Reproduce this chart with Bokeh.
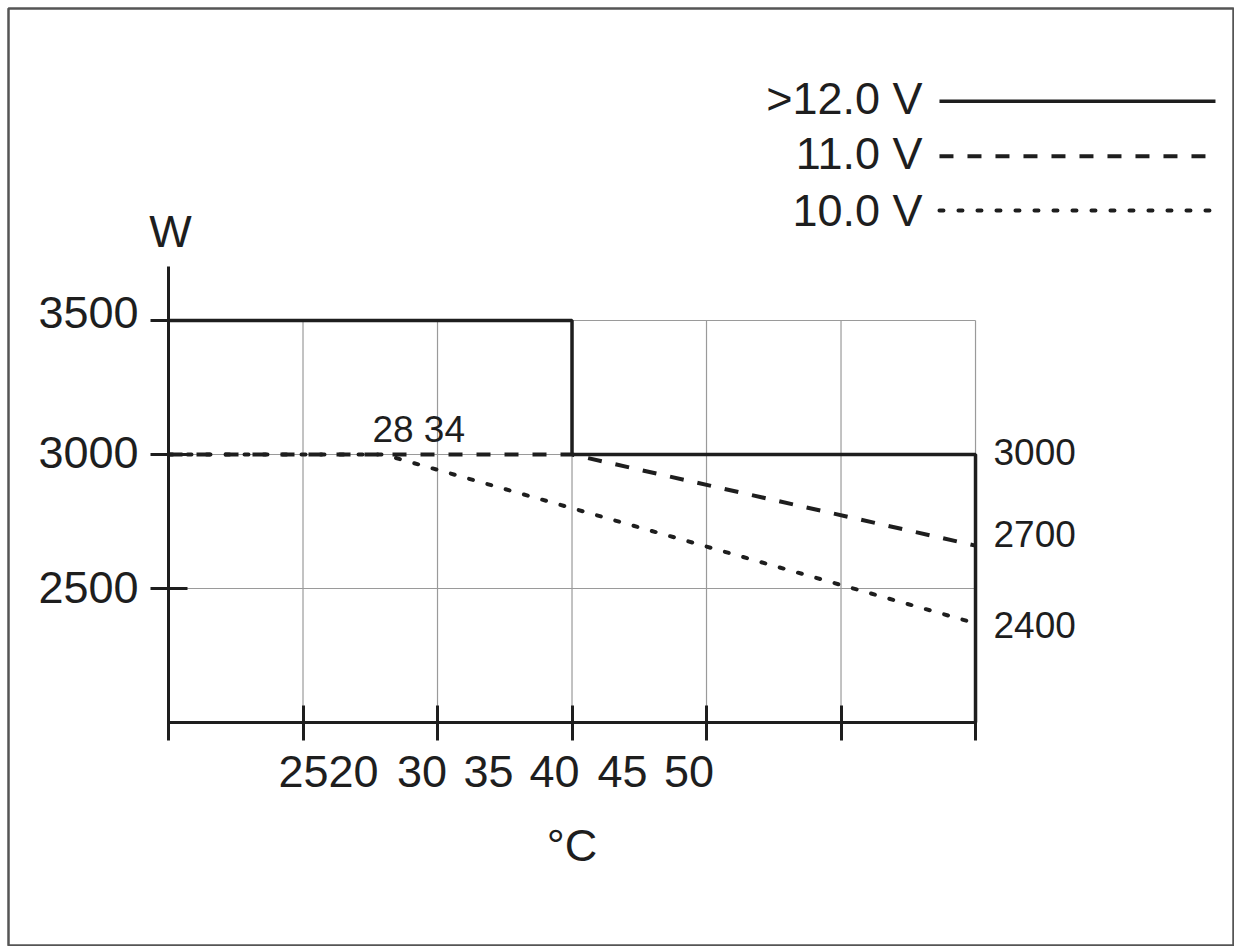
from bokeh.plotting import figure
from bokeh.models import Range1d, LinearAxis, FixedTicker, Label
from bokeh.embed import file_html
from bokeh.resources import INLINE

FONT = "Liberation Sans"
INK = "#1e1e1e"
GRID = "#9a9a9a"

# power (W) against temperature (°C), one line per supply voltage
x_12v = [10, 40, 40, 70, 70]
y_12v = [3500, 3500, 3000, 3000, 2000]
x_11v = [10, 40, 70]
y_11v = [3000, 3000, 2660]
x_10v = [10, 26, 70]
y_10v = [3000, 3000, 2370]

series_names = [">12.0 V", "11.0 V", "10.0 V"]

x_ticks = [10, 20, 30, 40, 50, 60, 70]
y_ticks = [2500, 3000, 3500]
# tick labels as printed in the original (they do not sit on the ticks)
x_label_pos = [21.9, 28.85, 33.8, 38.7, 43.75, 48.7]
x_label_text = ["2520", "30", "35", "40", "45", "50"]
y_label_pos = [2504, 3009, 3530]
y_label_text = ["2500", "3000", "3500"]

# values written at the right-hand end
end_values = ["3000", "2700", "2400"]
end_values_y = [3011, 2705, 2365]
break_note = "28 34"

# the frame covers the whole picture, its outline is the outer border
p = figure(width=1234, height=946, output_backend="svg", toolbar_location=None,
           x_range=Range1d(-1.896, 89.18), y_range=Range1d(1168, 4664),
           x_axis_type=None, y_axis_type=None,
           min_border_left=8, min_border_right=1,
           min_border_top=8, min_border_bottom=1)
p.outline_line_color = "#555555"
p.outline_line_width = 2.5
p.background_fill_color = "white"
p.border_fill_color = "white"

# grid only up to 3500
p.segment(x0=x_ticks[1:], y0=[2000] * 6, x1=x_ticks[1:], y1=[3500] * 6,
          line_color=GRID, line_width=1.2)
p.segment(x0=[10] * 3, y0=y_ticks, x1=[70] * 3, y1=y_ticks,
          line_color=GRID, line_width=1.2)

p.line(x_10v, y_10v, line_color=INK, line_width=4, line_dash="4 15", line_cap="round")
p.line(x_11v, y_11v, line_color=INK, line_width=4, line_dash="14 14")
p.line(x_12v, y_12v, line_color=INK, line_width=3.5)


def style_ticks_only(axis):
    axis.major_label_overrides = {t: "" for t in axis.ticker.ticks}
    axis.major_label_text_font_size = "1px"
    axis.axis_line_width = 3
    axis.axis_line_color = INK
    axis.major_tick_line_width = 3
    axis.major_tick_line_color = INK
    axis.minor_tick_line_color = None


def style_labels_only(axis, labels):
    axis.major_label_overrides = labels
    axis.axis_line_color = None
    axis.major_tick_line_color = None
    axis.minor_tick_line_color = None
    axis.major_tick_in = 0
    axis.major_tick_out = 0
    axis.major_label_text_font = FONT
    axis.major_label_text_font_size = "45px"
    axis.major_label_text_color = INK


# axes, pinned inside the frame
ax = LinearAxis(ticker=FixedTicker(ticks=x_ticks), fixed_location=2000, bounds=(10, 70))
style_ticks_only(ax)
ax.major_tick_in = 17
ax.major_tick_out = 18
p.add_layout(ax, "below")

ax2 = LinearAxis(ticker=FixedTicker(ticks=x_label_pos), fixed_location=2000, bounds=(10, 70))
style_labels_only(ax2, dict(zip(x_label_pos, x_label_text)))
ax2.major_label_standoff = 33
ax2.axis_label = "°C"
ax2.axis_label_text_font = FONT
ax2.axis_label_text_font_size = "45px"
ax2.axis_label_text_font_style = "normal"
ax2.axis_label_text_color = INK
ax2.axis_label_standoff = 30
p.add_layout(ax2, "below")

ay = LinearAxis(ticker=FixedTicker(ticks=y_ticks), fixed_location=10, bounds=(2000, 3700))
style_ticks_only(ay)
ay.major_tick_in = 19
ay.major_tick_out = 18
p.add_layout(ay, "left")

ay2 = LinearAxis(ticker=FixedTicker(ticks=y_label_pos), fixed_location=10, bounds=(2000, 3700))
style_labels_only(ay2, dict(zip(y_label_pos, y_label_text)))
ay2.major_label_standoff = 30
p.add_layout(ay2, "left")

# unit above the y axis
p.add_layout(Label(x=10.15, y=3832, text="W", text_font=FONT, text_font_size="45px",
                   text_color=INK, text_align="center", text_baseline="alphabetic"))

# legend: label on the left, line sample on the right
legend_y_text = [4328, 4123, 3910]
legend_y_line = [4318, 4113, 3910]
legend_dash = ["solid", "14 14", "4 15"]
legend_width = [3.5, 4, 4]
legend_x = [67.32, 87.84]
for name, yt, yl, dash, lw in zip(series_names, legend_y_text, legend_y_line, legend_dash, legend_width):
    p.add_layout(Label(x=66.06, y=yt, text=name, text_font=FONT, text_font_size="45px",
                       text_color=INK, text_align="right", text_baseline="alphabetic"))
    p.line(legend_x, [yl, yl], line_color=INK, line_width=lw, line_dash=dash,
           line_cap="round" if dash == "4 15" else "butt")

for txt, yv in zip(end_values, end_values_y):
    p.add_layout(Label(x=71.34, y=yv, text=txt, text_font=FONT, text_font_size="37px",
                       text_color=INK, text_align="left", text_baseline="alphabetic"))

p.add_layout(Label(x=28.6, y=3093, text=break_note, text_font=FONT, text_font_size="37px",
                   text_color=INK, text_align="center", text_baseline="alphabetic"))

open("out.html", "w").write(file_html(p, INLINE))
